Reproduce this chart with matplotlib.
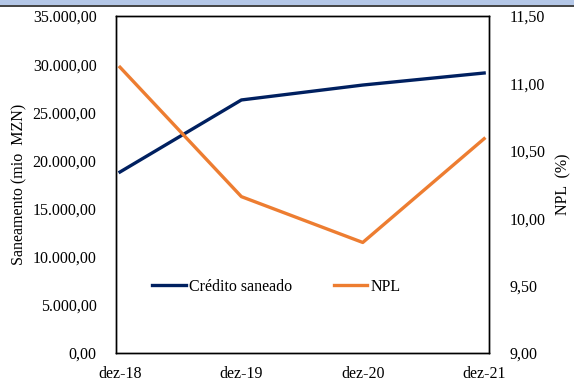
import matplotlib
matplotlib.use("Agg")
import matplotlib.pyplot as plt
from matplotlib.ticker import FuncFormatter, MultipleLocator
from matplotlib.patches import Rectangle

plt.rcParams["font.family"] = ["Liberation Serif", "DejaVu Serif"]
plt.rcParams["font.size"] = 11.5

periodos = ["dez-18", "dez-19", "dez-20", "dez-21"]
credito_saneado = [18800, 26280, 27830, 29080]
npl = [11.12, 10.16, 9.82, 10.59]

NAVY = "#002060"
ORANGE = "#ED7D31"


def pt_num(v, _pos=None):
    s = f"{v:,.2f}"
    return s.replace(",", "X").replace(".", ",").replace("X", ".")


fig = plt.figure(figsize=(5.74, 3.83), dpi=100)
ax = fig.add_axes([116 / 574, 1 - 353 / 383, 373 / 574, 337 / 383])
ax2 = ax.twinx()

x = list(range(len(periodos)))
l1, = ax.plot(x, credito_saneado, color=NAVY, lw=2.4, label="Crédito saneado")
l2, = ax2.plot(x, npl, color=ORANGE, lw=2.4, label="NPL")

ax.set_xlim(-0.033, 3.04)
ax.set_ylim(0, 35000)
ax2.set_ylim(9, 11.5)
ax.yaxis.set_major_locator(MultipleLocator(5000))
ax2.yaxis.set_major_locator(MultipleLocator(0.5))
ax.yaxis.set_major_formatter(FuncFormatter(pt_num))
ax2.yaxis.set_major_formatter(FuncFormatter(pt_num))
ax.set_xticks(x)
ax.set_xticklabels(periodos)

ax.tick_params(axis="x", length=0, pad=9)
ax.tick_params(axis="y", length=0, pad=14)
ax2.tick_params(axis="y", length=0, pad=15)

for a in (ax, ax2):
    for s in a.spines.values():
        s.set_linewidth(1.0)
        s.set_color("black")

ax.set_ylabel("Saneamento (mio  MZN)", labelpad=4)
ax2.set_ylabel("NPL  (%)", labelpad=7)

ax.legend(handles=[l1, l2], loc="center", bbox_to_anchor=(0.43, 0.196),
          ncol=2, frameon=False, handlelength=2.1, handletextpad=0.2,
          columnspacing=2.6)

# faixa azul no topo
fig.patches.append(Rectangle((0, 1 - 5 / 383), 1, 5 / 383, transform=fig.transFigure,
                             facecolor="#B4C7E7", edgecolor="none"))
fig.lines.append(plt.Line2D([0, 1], [1 - 5.5 / 383] * 2, transform=fig.transFigure,
                            color="#222222", lw=1.2))

fig.savefig("out.png", dpi=100)
